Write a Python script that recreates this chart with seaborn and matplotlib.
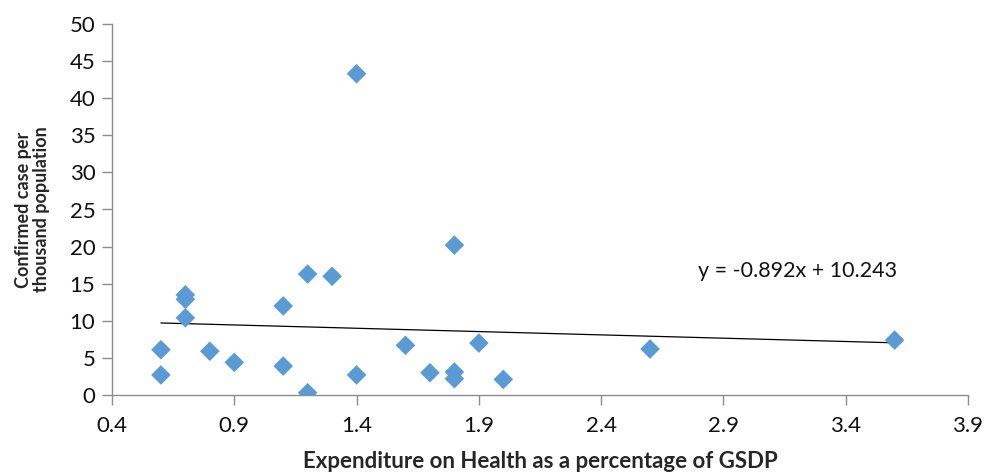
import matplotlib
matplotlib.use("Agg")
import matplotlib.pyplot as plt
import seaborn as sns
import numpy as np
import pandas as pd

# Data
expenditure = [0.6, 0.6, 0.7, 0.7, 0.7, 0.8, 0.9, 1.1, 1.1, 1.2, 1.2, 1.3,
               1.4, 1.4, 1.6, 1.7, 1.8, 1.8, 1.8, 1.9, 2.0, 2.6, 3.6]
cases = [6.1, 2.7, 13.5, 12.9, 10.4, 5.9, 4.4, 12.0, 3.9, 16.3, 0.3, 16.0,
         43.3, 2.7, 6.7, 3.0, 20.2, 3.1, 2.2, 7.0, 2.1, 6.2, 7.4]
trend_slope = -0.892
trend_intercept = 10.243
x_ticks = [0.4, 0.9, 1.4, 1.9, 2.4, 2.9, 3.4, 3.9]
y_ticks = [0, 5, 10, 15, 20, 25, 30, 35, 40, 45, 50]

sns.set_style("white")
plt.rcParams['font.family'] = ['Lato', 'DejaVu Sans']

df = pd.DataFrame({"x": expenditure, "y": cases})

fig = plt.figure(figsize=(9.93, 4.73), dpi=100)
ax = fig.add_axes([112/993, 1-395/473, (968-112)/993, (395-24)/473])

sns.scatterplot(data=df, x="x", y="y", marker="D", s=100, color="#5B9BD5",
                edgecolor="none", linewidth=0, ax=ax, zorder=3)

xl = np.array([min(expenditure), max(expenditure)])
ax.plot(xl, trend_slope * xl + trend_intercept, color="black", lw=0.9, zorder=2)
ax.text(2.795, 16.7, f"y = {trend_slope}x + {trend_intercept}", fontsize=15.5,
        va="center", ha="left", color="#111111")

ax.set_xlim(0.4, 3.9)
ax.set_ylim(0, 50)
ax.set_xticks(x_ticks)
ax.set_xticklabels([f"{v:.1f}" for v in x_ticks])
ax.set_yticks(y_ticks)
ax.set_yticklabels([str(v) for v in y_ticks])

for s in ["top", "right"]:
    ax.spines[s].set_visible(False)
for s in ["left", "bottom"]:
    ax.spines[s].set_color("#8c8c8c")
    ax.spines[s].set_linewidth(1.0)

ax.tick_params(axis="both", which="major", length=7, width=1.0, color="#8c8c8c",
               labelsize=16, labelcolor="#111111", direction="out")
ax.tick_params(axis="x", pad=8)
ax.tick_params(axis="y", pad=5)
ax.xaxis.set_ticks_position("bottom")
ax.yaxis.set_ticks_position("left")

ax.set_xlabel("Expenditure on Health as a percentage of GSDP", fontsize=16,
              fontweight="bold", labelpad=11)
ax.set_ylabel("Confirmed case per\nthousand population", fontsize=13,
              fontweight="bold", labelpad=14, linespacing=1.05)

fig.savefig("out.png", dpi=100)
